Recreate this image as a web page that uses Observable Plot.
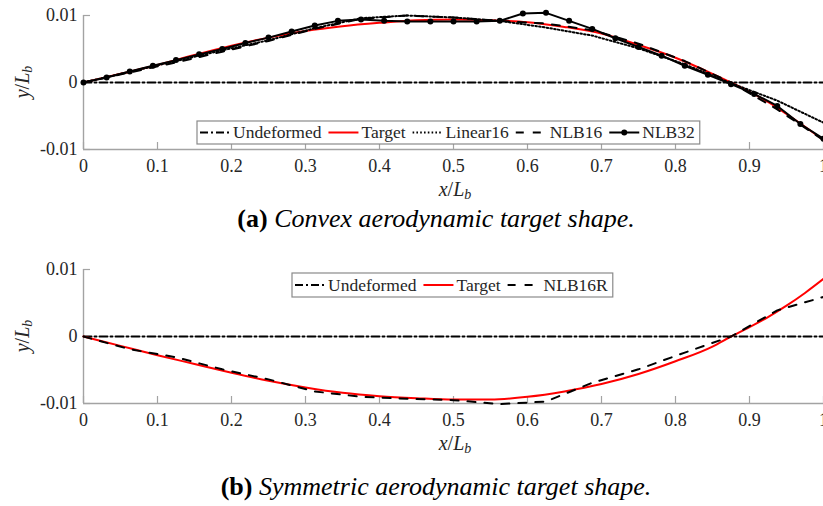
<!DOCTYPE html>
<html>
<head>
<meta charset="utf-8">
<script src="https://cdn.jsdelivr.net/npm/d3@7"></script>
<script src="https://cdn.jsdelivr.net/npm/@observablehq/plot@0.6"></script>
<style>
  body { margin: 0; background: #fff; }
  #fig { position: relative; width: 823px; height: 506px; overflow: hidden; background: #fff; }
  #fig > svg { position: absolute; left: 0; }
</style>
</head>
<body>
<div id="fig"></div>
<script>
// ---------- data ----------
const xTicks = [0, 0.1, 0.2, 0.3, 0.4, 0.5, 0.6, 0.7, 0.8, 0.9, 1];
const yTicks = [-0.01, 0, 0.01];
const xDomain = [0, 1];
const yDomain = [-0.01, 0.01];

// undeformed reference line
const xUndeformed = [0, 1];
const yUndeformed = [0, 0];

// target shapes (sampled along the chord)
const xTarget = [0, 0.05, 0.1, 0.15, 0.2, 0.25, 0.3, 0.35, 0.4, 0.45, 0.5, 0.55, 0.6, 0.65, 0.7, 0.75, 0.8, 0.85, 0.875, 0.9, 0.925, 0.95, 0.975, 1];
const yTargetA = [0, 0.0013, 0.0026, 0.0041, 0.0055, 0.0067, 0.0077, 0.0084, 0.0089, 0.0093, 0.0094, 0.0093, 0.0090, 0.0083, 0.0073, 0.0056, 0.0037, 0.0013, 0, -0.0014, -0.0029, -0.0047, -0.0066, -0.0086];
const yTargetB = [0, -0.0014, -0.0028, -0.0041, -0.0054, -0.0066, -0.0076, -0.0084, -0.0089, -0.0092, -0.0094, -0.0094, -0.0090, -0.0082, -0.0071, -0.0056, -0.0037, -0.0015, 0, 0.0014, 0.0029, 0.0046, 0.0065, 0.0086];

// 16-element beam nodes
const x16 = [0, 0.0625, 0.125, 0.1875, 0.25, 0.3125, 0.375, 0.4375, 0.5, 0.5625, 0.625, 0.6875, 0.75, 0.8125, 0.875, 0.9375, 1];
const yLinear16 = [0, 0.0016, 0.0032, 0.0048, 0.0063, 0.0081, 0.0096, 0.0100, 0.0097, 0.0092, 0.0082, 0.0070, 0.0051, 0.0027, -0.0001, -0.0027, -0.0060];
const yNLB16 = [0, 0.0015, 0.0030, 0.0046, 0.0062, 0.0080, 0.0095, 0.0100, 0.0097, 0.0092, 0.0088, 0.0078, 0.0058, 0.0032, 0.0000, -0.0040, -0.0086];
const yNLB16R = [0, -0.0019, -0.0031, -0.0049, -0.0064, -0.0082, -0.0090, -0.0093, -0.0095, -0.0101, -0.0097, -0.0069, -0.0049, -0.0024, 0.0000, 0.0039, 0.0059];

// 32-element beam nodes
const x32 = [0, 0.03125, 0.0625, 0.09375, 0.125, 0.15625, 0.1875, 0.21875, 0.25, 0.28125, 0.3125, 0.34375, 0.375, 0.40625, 0.4375, 0.46875, 0.5, 0.53125, 0.5625, 0.59375, 0.625, 0.65625, 0.6875, 0.71875, 0.75, 0.78125, 0.8125, 0.84375, 0.875, 0.90625, 0.9375, 0.96875, 1];
const yNLB32 = [0, 0.00075, 0.00164, 0.0025, 0.00334, 0.0042, 0.0050, 0.0059, 0.0067, 0.0076, 0.0085, 0.0092, 0.0094, 0.0092, 0.0091, 0.0091, 0.0091, 0.0091, 0.0092, 0.0103, 0.0104, 0.0092, 0.0080, 0.0066, 0.0053, 0.0040, 0.0025, 0.00115, -0.00025, -0.0017, -0.0035, -0.0062, -0.0084];

const captionA = ["(a)", " Convex aerodynamic target shape."];
const captionB = ["(b)", " Symmetric aerodynamic target shape."];

// ---------- helpers ----------
const SERIF = "'Liberation Serif', 'Times New Roman', serif";
const rows = (xs, ys) => xs.map((x, i) => ({x, y: ys[i]}));
const AXIS = "#a3a3a3";
const TXT = "#262626";
const DASHDOT = "8,3,2,3";
const DASH = "8,9";
const DOT = "1.6,2.2";

function panel(lines) {
  return Plot.plot({
    width: 823,
    height: 210,
    marginLeft: 83,
    marginRight: 0,
    marginTop: 15,
    marginBottom: 61,
    x: {domain: xDomain, label: null},
    y: {domain: yDomain, label: null},
    style: {fontFamily: SERIF, fontSize: "18px", color: TXT, background: "transparent", overflow: "visible"},
    marks: [
      Plot.ruleY([yDomain[0]], {stroke: AXIS, strokeWidth: 1.4}),
      Plot.ruleX([xDomain[0]], {stroke: AXIS, strokeWidth: 1.4}),
      Plot.axisX(xTicks, {tickSize: 7, dy: -7, fill: "none", stroke: AXIS, strokeWidth: 1.2, label: null}),
      Plot.axisX(xTicks, {tickSize: 0, tickPadding: 10, tickFormat: d => String(d), fill: TXT, label: null}),
      Plot.axisY(yTicks, {tickSize: 7, dx: 7, fill: "none", stroke: AXIS, strokeWidth: 1.2, label: null}),
      Plot.axisY(yTicks, {tickSize: 0, tickPadding: 6, tickFormat: d => String(d), fill: TXT, label: null}),
      ...lines
    ]
  });
}

const plotA = panel([
  Plot.line(rows(xUndeformed, yUndeformed), {x: "x", y: "y", stroke: "black", strokeWidth: 2, strokeDasharray: DASHDOT}),
  Plot.line(rows(xTarget, yTargetA), {x: "x", y: "y", stroke: "#ff0000", strokeWidth: 2, curve: "monotone-x"}),
  Plot.line(rows(x16, yLinear16), {x: "x", y: "y", stroke: "black", strokeWidth: 2, strokeDasharray: DOT}),
  Plot.line(rows(x16, yNLB16), {x: "x", y: "y", stroke: "black", strokeWidth: 2, strokeDasharray: DASH}),
  Plot.line(rows(x32, yNLB32), {x: "x", y: "y", stroke: "black", strokeWidth: 2}),
  Plot.dot(rows(x32, yNLB32), {x: "x", y: "y", r: 3, fill: "black", stroke: "none"})
]);

const plotB = panel([
  Plot.line(rows(xUndeformed, yUndeformed), {x: "x", y: "y", stroke: "black", strokeWidth: 2, strokeDasharray: DASHDOT}),
  Plot.line(rows(xTarget, yTargetB), {x: "x", y: "y", stroke: "#ff0000", strokeWidth: 2, curve: "monotone-x"}),
  Plot.line(rows(x16, yNLB16R), {x: "x", y: "y", stroke: "black", strokeWidth: 2, strokeDasharray: DASH})
]);

const fig = document.getElementById("fig");
plotA.style.top = "0px";
plotB.style.top = "254px";
fig.appendChild(plotA);
fig.appendChild(plotB);

// ---------- overlay: axis labels, legends, captions ----------
const ov = d3.select(fig).append("svg")
  .attr("width", 823).attr("height", 506)
  .style("position", "absolute").style("left", "0px").style("top", "0px")
  .style("pointer-events", "none");

function mathLabel(sel, a) {
  sel.attr("font-family", SERIF).attr("font-size", 20).attr("fill", TXT);
  sel.append("tspan").attr("font-style", "italic").text(a);
  sel.append("tspan").text("/");
  sel.append("tspan").attr("font-style", "italic").text("L");
  sel.append("tspan").attr("font-style", "italic").attr("font-size", 14).attr("dy", 3).text("b");
}

function axisLabels(top) {
  mathLabel(ov.append("text").attr("x", 455).attr("y", top + 196).attr("text-anchor", "middle"), "x");
  mathLabel(ov.append("text").attr("transform", `translate(29,${top + 82}) rotate(-90)`).attr("text-anchor", "middle"), "y");
}
axisLabels(0);
axisLabels(254);

function legend(items, left, top, h, fs) {
  const g = ov.append("g").attr("transform", `translate(${left},${top})`);
  const box = g.append("rect").attr("x", 0).attr("y", 0).attr("height", h)
    .attr("fill", "white").attr("stroke", "#8a8a8a").attr("stroke-width", 1.2);
  let x = 3;
  const my = h / 2;
  items.forEach(it => {
    g.append("line").attr("x1", x).attr("x2", x + 30).attr("y1", my).attr("y2", my)
      .attr("stroke", it.color).attr("stroke-width", 2).attr("stroke-dasharray", it.dash || null);
    if (it.marker) g.append("circle").attr("cx", x + 15).attr("cy", my).attr("r", 3).attr("fill", "black");
    const t = g.append("text").attr("x", x + it.gap).attr("y", my + 5.5)
      .attr("font-family", SERIF).attr("font-size", fs).attr("fill", TXT).text(it.label);
    x += it.gap + t.node().getComputedTextLength() + 7;
  });
  box.attr("width", x - 2);
}

legend([
  {label: "Undeformed", color: "black", dash: DASHDOT, gap: 33},
  {label: "Target", color: "#ff0000", gap: 33},
  {label: "Linear16", color: "black", dash: DOT, gap: 33},
  {label: "NLB16", color: "black", dash: DASH, gap: 34},
  {label: "NLB32", color: "black", marker: true, gap: 33}
], 197, 121, 23, 17.5);

legend([
  {label: "Undeformed", color: "black", dash: DASHDOT, gap: 33},
  {label: "Target", color: "#ff0000", gap: 33},
  {label: "NLB16R", color: "black", dash: DASH, gap: 36}
], 292, 273, 24, 17.5);

function caption(parts, y) {
  const t = ov.append("text").attr("x", 436).attr("y", y).attr("text-anchor", "middle")
    .attr("font-family", SERIF).attr("font-size", 26).attr("fill", "black");
  t.append("tspan").attr("font-weight", "bold").text(parts[0]);
  t.append("tspan").attr("font-style", "italic").text(parts[1]);
}
caption(captionA, 227);
caption(captionB, 495);
</script>
</body>
</html>
